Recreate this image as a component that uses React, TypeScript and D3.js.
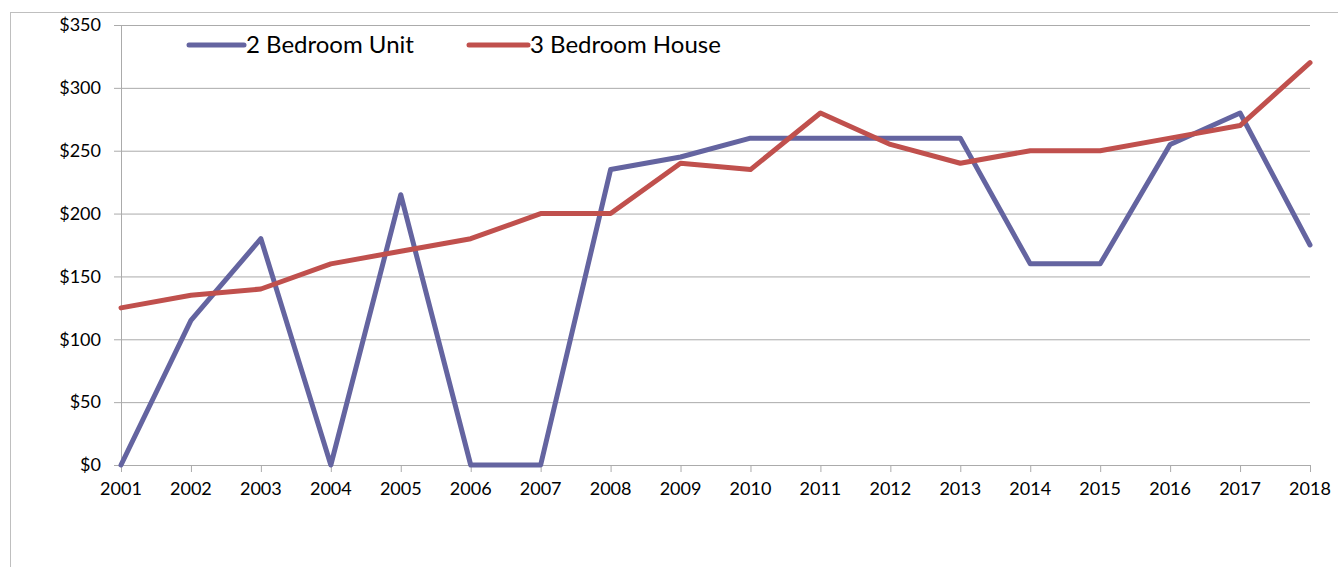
import React from 'react'
import * as d3 from 'd3'

const years = ['2001', '2002', '2003', '2004', '2005', '2006', '2007', '2008', '2009',
  '2010', '2011', '2012', '2013', '2014', '2015', '2016', '2017', '2018']
const unit2 = [0, 115, 180, 0, 215, 0, 0, 235, 245, 260, 260, 260, 260, 160, 160, 255, 280, 175]
const house3 = [125, 135, 140, 160, 170, 180, 200, 200, 240, 235, 280, 255, 240, 250, 250, 260, 270, 320]
const yTicks = [0, 50, 100, 150, 200, 250, 300, 350]

const series = [
  { name: '2 Bedroom Unit', values: unit2, color: '#6464a0' },
  { name: '3 Bedroom House', values: house3, color: '#c0504d' },
]

const W = 1338
const H = 567
const FONT = 'Lato, "Open Sans", sans-serif'

const App = () => {
  const left = 121
  const right = 1310
  const top = 25
  const bottom = 465

  // x scale
  const x = d3.scalePoint<string>().domain(years).range([left, right])
  // y scale
  const y = d3.scaleLinear().domain([0, 350]).range([bottom, top])

  const line = d3
    .line<number>()
    .x((d, i) => x(years[i]) as number)
    .y((d) => y(d))

  // legend slots: [line start, line end, text start]
  const legendPos = [
    [189, 244, 246],
    [469, 528, 530],
  ]

  return (
    <svg width={W} height={H} style={{ position: 'absolute', left: 0, top: 0, background: 'white' }}>
      {/* outer frame */}
      <rect x={10.5} y={12.5} width={W} height={H} fill="none" stroke="#bfbfbf" strokeWidth={1} />

      {/* gridlines and y ticks */}
      {yTicks.map((t) => (
        <g key={t}>
          <line x1={left - 7} x2={right} y1={y(t) + 0.5} y2={y(t) + 0.5} stroke="#ababab" strokeWidth={1} />
          <text x={101} y={y(t)} dy="0.35em" textAnchor="end" fontFamily={FONT} fontSize={18} fill="#000">
            ${t}
          </text>
        </g>
      ))}

      {/* y axis */}
      <line x1={left + 0.5} x2={left + 0.5} y1={top} y2={bottom} stroke="#ababab" />

      {/* x ticks */}
      {years.map((yr) => (
        <g key={yr}>
          <line x1={(x(yr) as number) + 0.5} x2={(x(yr) as number) + 0.5} y1={bottom} y2={bottom + 7} stroke="#ababab" />
          <text x={x(yr)} y={bottom + 30} textAnchor="middle" fontFamily={FONT} fontSize={18} fill="#000">
            {yr}
          </text>
        </g>
      ))}

      {/* lines */}
      {series.map((s) => (
        <path
          key={s.name}
          d={line(s.values) || ''}
          fill="none"
          stroke={s.color}
          strokeWidth={5}
          strokeLinejoin="round"
          strokeLinecap="round"
        />
      ))}

      {/* legend */}
      {series.map((s, i) => (
        <g key={s.name}>
          <line x1={legendPos[i][0]} x2={legendPos[i][1]} y1={45} y2={45} stroke={s.color} strokeWidth={5} strokeLinecap="round" />
          <text x={legendPos[i][2]} y={45} dy="0.35em" fontFamily={FONT} fontSize={24} fill="#000">
            {s.name}
          </text>
        </g>
      ))}
    </svg>
  )
}

export default App
